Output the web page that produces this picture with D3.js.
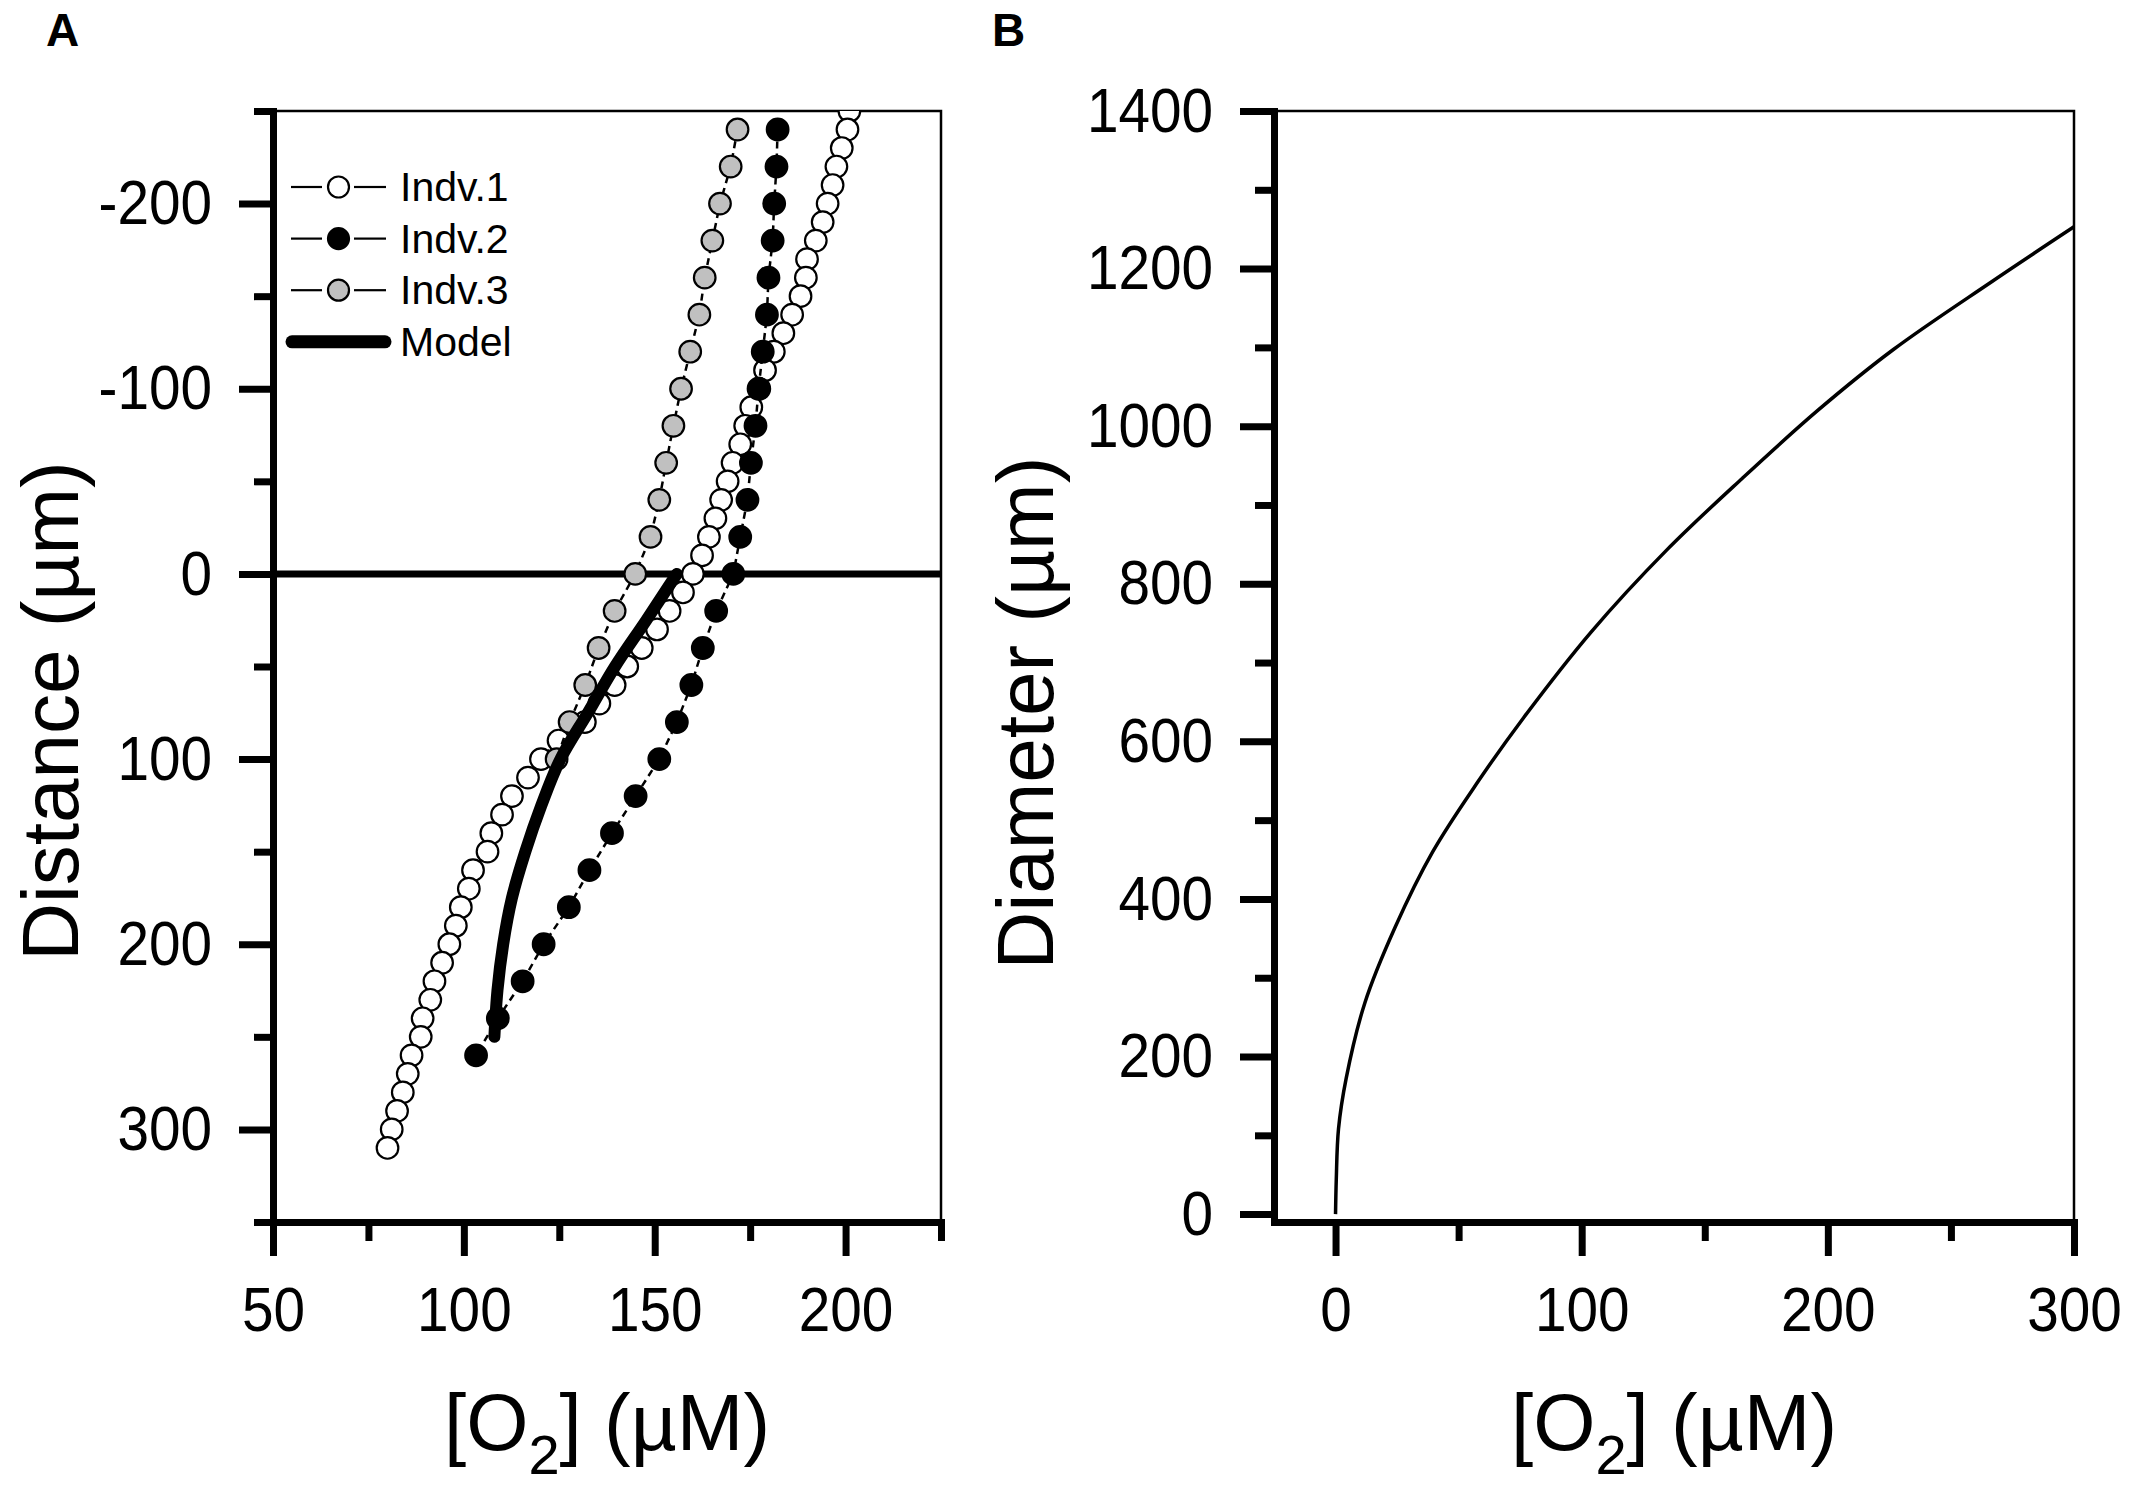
<!DOCTYPE html>
<html>
<head>
<meta charset="utf-8">
<script src="https://cdnjs.cloudflare.com/ajax/libs/d3/7.8.5/d3.min.js"></script>
<style>
  body { margin: 0; background: #fff; }
  svg text { font-family: "Liberation Sans", Arial, sans-serif; fill: #000; }
</style>
</head>
<body>
<div id="chart"></div>
<script>
// ---- panel A : O2 profiles (distance in um, O2 in uM) ----
var indv1Dist = [-250,-240,-230,-220,-210,-200,-190,-180,-170,-160,-150,-140,-130,-120,-110,-100,-90,-80,-70,-60,-50,-40,-30,-20,-10,0,10,20,30,40,50,60,70,80,90,100,110,120,130,140,150,160,170,180,190,200,210,220,230,240,250,260,270,280,290,300,310];
var indv1O2 = [201.0,200.5,199.0,197.6,196.6,195.3,194.0,192.2,189.9,189.6,188.2,186.0,183.7,181.2,178.9,177.4,175.3,173.7,172.4,170.4,169.1,167.4,165.9,164.2,162.4,160.0,157.4,153.9,150.6,146.6,142.8,139.5,135.5,131.7,124.8,120.2,116.8,112.6,110.0,107.2,106.2,102.4,101.3,99.2,97.9,96.2,94.3,92.3,91.2,89.2,88.7,86.3,85.3,84.0,82.5,81.1,80.0];

var indv2Dist = [-240,-220,-200,-180,-160,-140,-120,-100,-80,-60,-40,-20,0,20,40,60,80,100,120,140,160,180,200,220,240,260];
var indv2O2 = [182.2,181.9,181.3,180.9,179.8,179.4,178.3,177.2,176.4,175.2,174.3,172.4,170.6,166.1,162.6,159.6,155.8,151.2,145.0,138.8,132.9,127.5,120.9,115.4,108.9,103.2];

var indv3Dist = [-240,-220,-200,-180,-160,-140,-120,-100,-80,-60,-40,-20,0,20,40,60,80,100];
var indv3O2 = [171.7,169.9,167.1,165.1,163.1,161.7,159.3,156.9,154.9,153.0,151.2,148.9,144.9,139.5,135.3,131.8,127.7,124.3];

var modelDist = [0,25,50,75,100,125,150,175,200,225,250];
var modelO2 = [155.8,147.8,139.6,132.5,125.3,120.3,116.1,112.6,110.3,108.8,108.0];

var legendLabels = ["Indv.1","Indv.2","Indv.3","Model"];
var symbolFill = ["#ffffff","#000000","#c0c0c0"];

var aXTicks = [50,100,150,200], aXMinor = [75,125,175,225];
var aYTicks = [-200,-100,0,100,200,300], aYMinor = [-250,-150,-50,50,150,250,350];

// ---- panel B : diameter vs O2 ----
var bO2 = [0,0.3,1.2,4.3,11.9,24.2,39.5,57.9,76.4,103.9,134.6,165.3,195.9,226.5,266.4,300];
var bDiam = [0,44,108,172,268,364,460,549,630,739,843,934,1020,1097,1183,1253];

var bXTicks = [0,100,200,300], bXMinor = [50,150,250];
var bYTicks = [0,200,400,600,800,1000,1200,1400], bYMinor = [100,300,500,700,900,1100,1300];

var svg = d3.select("#chart").append("svg")
    .attr("width", 2133)
    .attr("height", 1491);

var boxA = { left: 273, right: 941, top: 111, bottom: 1222 };
var boxB = { left: 1274, right: 2074, top: 111, bottom: 1222 };

var xA = d3.scaleLinear().domain([50, 225]).range([boxA.left, boxA.right]);
var yA = d3.scaleLinear().domain([-250, 350]).range([boxA.top, boxA.bottom]);
var xB = d3.scaleLinear().domain([-25, 300]).range([boxB.left, boxB.right]);
var yB = d3.scaleLinear().domain([-10, 1400]).range([boxB.bottom, boxB.top]);

const plain = d => String(d); // hyphen minus, no thousands comma

const drawFrame = (box, x, y, xt, xm, yt, ym) => {
    // thin top / right border
    svg.append("path")
        .attr("d", "M" + box.left + "," + box.top + "H" + box.right + "V" + box.bottom)
        .attr("fill", "none").attr("stroke", "#000").attr("stroke-width", 2.5);

    // minor ticks
    svg.append("g").attr("class", "minor")
        .attr("transform", "translate(0," + box.bottom + ")")
        .call(d3.axisBottom(x).tickValues(xm).tickSize(19).tickFormat(""));
    svg.append("g").attr("class", "minor")
        .attr("transform", "translate(" + box.left + ",0)")
        .call(d3.axisLeft(y).tickValues(ym).tickSize(19).tickFormat(""));

    // major ticks + labels
    var gx = svg.append("g")
        .attr("transform", "translate(0," + box.bottom + ")")
        .call(d3.axisBottom(x).tickValues(xt).tickFormat(plain)
            .tickSize(34).tickSizeOuter(0).tickPadding(30));
    var gy = svg.append("g")
        .attr("transform", "translate(" + box.left + ",0)")
        .call(d3.axisLeft(y).tickValues(yt).tickFormat(plain)
            .tickSize(34).tickSizeOuter(0).tickPadding(27));

    [gx, gy].forEach(g => {
        g.attr("font-family", null).attr("font-size", 63);
        g.select(".domain").attr("stroke-width", 7).attr("stroke-linecap", "square");
        g.selectAll(".tick line").attr("stroke-width", 7);
    });
    gx.selectAll("text").style("transform-box", "fill-box")
        .style("transform-origin", "50% 50%").style("transform", "scaleX(0.9)");
    gy.selectAll("text").style("transform-box", "fill-box")
        .style("transform-origin", "100% 50%").style("transform", "scaleX(0.9)");

    svg.selectAll(".minor .domain").remove();
    svg.selectAll(".minor .tick line").attr("stroke-width", 7);
};

const xTitle = (cx) => {
    var t = svg.append("text")
        .attr("x", cx).attr("y", 1450)
        .attr("text-anchor", "middle")
        .attr("font-size", 80);
    t.append("tspan").text("[O");
    t.append("tspan").attr("font-size", 56).attr("dy", 24).text("2");
    t.append("tspan").attr("dy", -24).text("] (µM)");
};

// ================= panel A =================
// zero line
svg.append("line")
    .attr("x1", boxA.left).attr("x2", boxA.right)
    .attr("y1", yA(0)).attr("y2", yA(0))
    .attr("stroke", "#000").attr("stroke-width", 7);

drawFrame(boxA, xA, yA, aXTicks, aXMinor, aYTicks, aYMinor);

svg.append("clipPath").attr("id", "clipA")
    .append("rect")
    .attr("x", boxA.left).attr("y", boxA.top)
    .attr("width", boxA.right - boxA.left).attr("height", boxA.bottom - boxA.top);

var plotA = svg.append("g").attr("clip-path", "url(#clipA)");

var series = [
    { dist: indv1Dist, o2: indv1O2, fill: symbolFill[0] },
    { dist: indv2Dist, o2: indv2O2, fill: symbolFill[1] },
    { dist: indv3Dist, o2: indv3O2, fill: symbolFill[2] }
];

var dashLine = d3.line().x(d => xA(d[0])).y(d => yA(d[1]));

series.forEach(s => {
    var pts = s.dist.map((d, i) => [s.o2[i], d]);
    plotA.append("path")
        .attr("d", dashLine(pts))
        .attr("fill", "none")
        .attr("stroke", "#000")
        .attr("stroke-width", 2.5)
        .attr("stroke-dasharray", "7,5");
    plotA.selectAll(null)
        .data(pts)
        .enter()
        .append("circle")
        .attr("cx", d => xA(d[0]))
        .attr("cy", d => yA(d[1]))
        .attr("r", 10.8)
        .attr("fill", s.fill)
        .attr("stroke", "#000")
        .attr("stroke-width", 2.2);
});

var modelLine = d3.line()
    .x(d => xA(d[0])).y(d => yA(d[1]))
    .curve(d3.curveCatmullRom.alpha(0.5));
plotA.append("path")
    .attr("d", modelLine(modelDist.map((d, i) => [modelO2[i], d])))
    .attr("fill", "none")
    .attr("stroke", "#000")
    .attr("stroke-width", 12)
    .attr("stroke-linecap", "round");

// legend
var legend = svg.append("g");
legendLabels.forEach((lab, i) => {
    var cy = 187 + i * 51.6;
    if (i < 3) {
        legend.append("line").attr("x1", 291).attr("x2", 322).attr("y1", cy).attr("y2", cy)
            .attr("stroke", "#000").attr("stroke-width", 2.2);
        legend.append("line").attr("x1", 354).attr("x2", 386).attr("y1", cy).attr("y2", cy)
            .attr("stroke", "#000").attr("stroke-width", 2.2);
        legend.append("circle").attr("cx", 338.5).attr("cy", cy).attr("r", 10.5)
            .attr("fill", symbolFill[i]).attr("stroke", "#000").attr("stroke-width", 2.2);
    } else {
        legend.append("line").attr("x1", 292).attr("x2", 385).attr("y1", cy).attr("y2", cy)
            .attr("stroke", "#000").attr("stroke-width", 13).attr("stroke-linecap", "round");
    }
    legend.append("text")
        .attr("x", 400).attr("y", cy + 14)
        .attr("font-size", 41)
        .text(lab);
});

svg.append("text")
    .attr("transform", "translate(78,711) rotate(-90)")
    .attr("text-anchor", "middle")
    .attr("font-size", 80)
    .text("Distance (µm)");
xTitle((boxA.left + boxA.right) / 2);

svg.append("text")
    .attr("x", 46).attr("y", 46)
    .attr("font-size", 46).attr("font-weight", "bold")
    .text("A");

// ================= panel B =================
drawFrame(boxB, xB, yB, bXTicks, bXMinor, bYTicks, bYMinor);

var diamLine = d3.line()
    .x((d, i) => xB(bO2[i])).y(d => yB(d))
    .curve(d3.curveCatmullRom.alpha(0.5));
svg.append("path")
    .attr("d", diamLine(bDiam))
    .attr("fill", "none")
    .attr("stroke", "#000")
    .attr("stroke-width", 3.5);

svg.append("text")
    .attr("transform", "translate(1053,713) rotate(-90)")
    .attr("text-anchor", "middle")
    .attr("font-size", 80)
    .text("Diameter (µm)");
xTitle((boxB.left + boxB.right) / 2);

svg.append("text")
    .attr("x", 992).attr("y", 46)
    .attr("font-size", 46).attr("font-weight", "bold")
    .text("B");
</script>
</body>
</html>
